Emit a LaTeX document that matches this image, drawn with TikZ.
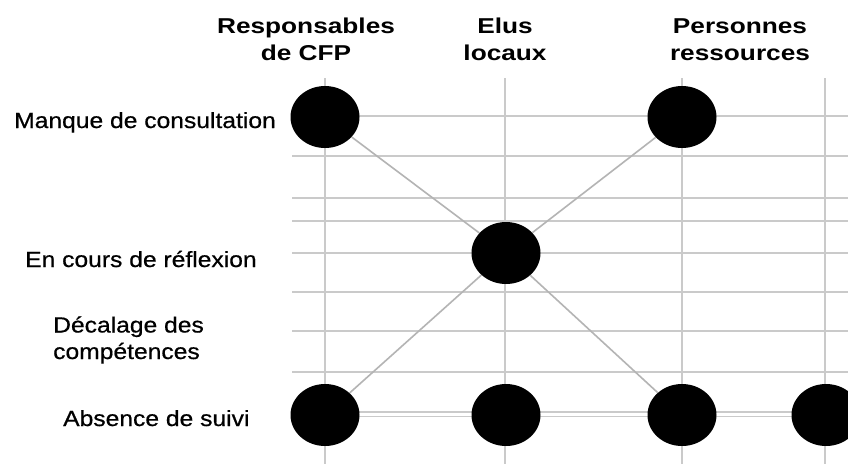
\documentclass[tikz,border=0pt]{standalone}
\usepackage{fontspec}
\setmainfont{Liberation Sans}[FakeStretch=1.12, FakeBold=0.6]
\newfontfamily\hdrfont{Liberation Sans}[FakeStretch=1.22]
\usetikzlibrary{shapes.geometric}
\definecolor{gridgray}{HTML}{CACACA}
\definecolor{linkgray}{HTML}{B4B4B4}
\tikzset{
  gridline/.style={draw=gridgray, line width=1.5pt},
  link/.style={draw=linkgray, line width=1.6pt},
  dot/.style={ellipse, fill=black, draw=none, minimum width=69pt, minimum height=62pt, inner sep=0pt},
  hdr/.style={align=center, anchor=base, inner sep=0pt, font=\hdrfont\bfseries\fontsize{21.5}{27}\selectfont},
  rowlbl/.style={align=left, anchor=base west, inner sep=0pt, font=\fontsize{22}{26.5}\selectfont}
}
\begin{document}
\begin{tikzpicture}[x=1pt, y=-1pt]
\useasboundingbox (0,0) rectangle (848,464);
\fill[white] (0,0) rectangle (848,464);
% grid
\foreach \gx in {325,505,682,825} \draw[gridline] (\gx,78) -- (\gx,464);
\foreach \gy in {116,156,198,221,253,292,331,372} \draw[gridline] (292,\gy) -- (848,\gy);
\draw[gridline] (292,412) -- (848,412);
\draw[gridline] (292,416.5) -- (848,416.5);
% headers (anchor = baseline of the last line)
\node[hdr] (h1) at (306,60) {Responsables\\de CFP};
\node[hdr] (h2) at (505,60) {Elus\\locaux};
\node[hdr] (h3) at (740,60) {Personnes\\ressources};
% row labels
\node[rowlbl] (r1) at (14,128) {Manque de consultation};
\node[rowlbl] (r2) at (25,267) {En cours de réflexion};
\node[rowlbl] (r3) at (53,359) {Décalage des\\compétences};
\node[rowlbl] (r4) at (63,426) {Absence de suivi};
% dots
\node[dot] (tl) at (325,117) {};
\node[dot] (tr) at (682,117) {};
\node[dot] (m)  at (506,253) {};
\node[dot] (b1) at (325,415) {};
\node[dot] (b2) at (506,415) {};
\node[dot] (b3) at (682,415) {};
\node[dot] (b4) at (826,415) {};
% links
\draw[link] (tl) -- (m);
\draw[link] (tr) -- (m);
\draw[link] (m) -- (b1);
\draw[link] (m) -- (b3);
\end{tikzpicture}
\end{document}
